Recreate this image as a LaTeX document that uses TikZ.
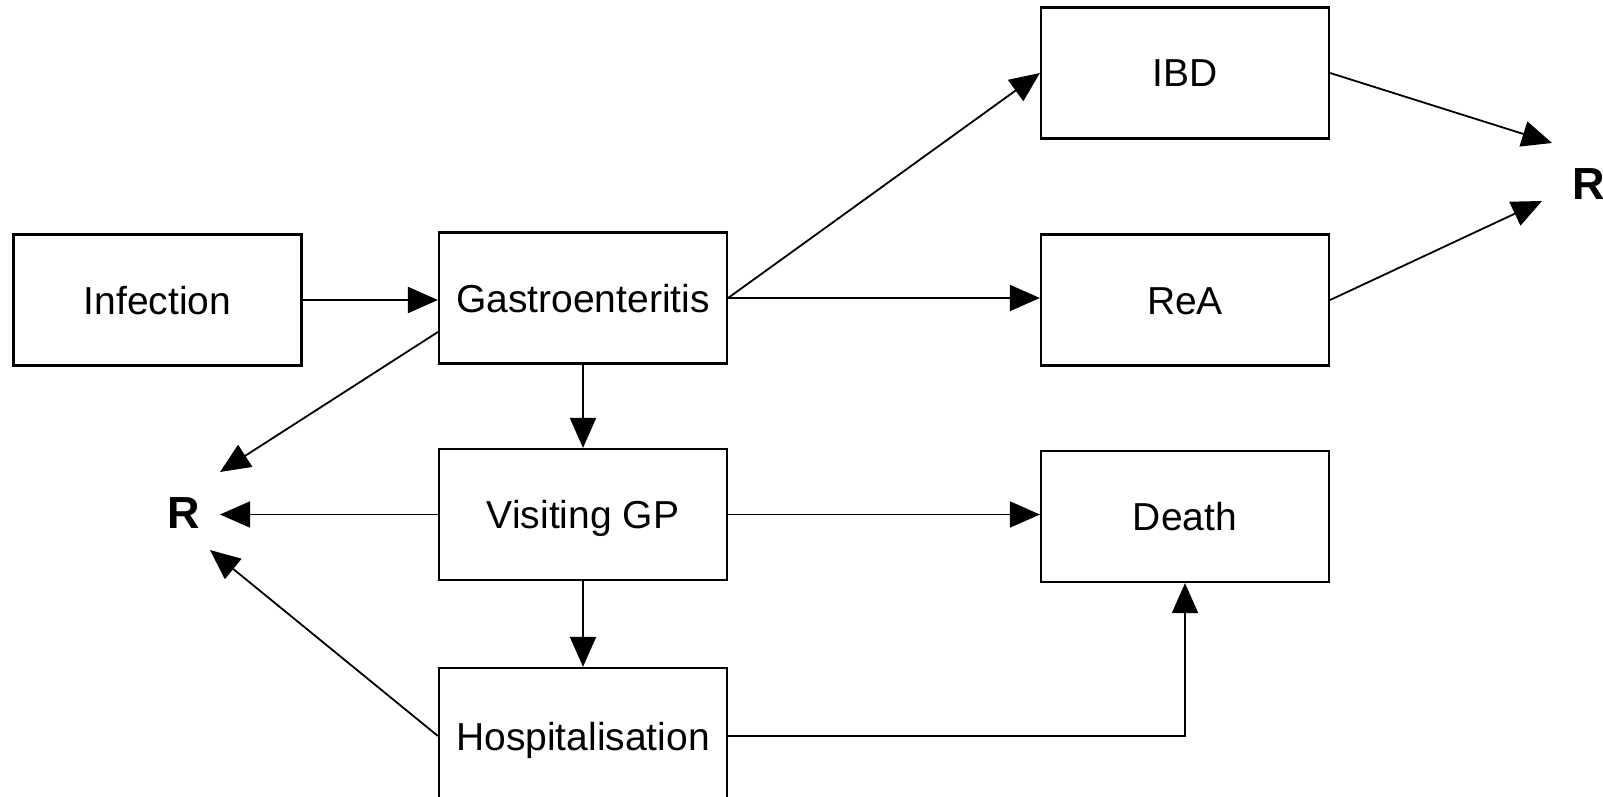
\documentclass[tikz,border=0pt]{standalone}
\usepackage{fontspec}
\setmainfont{Liberation Sans}
\usetikzlibrary{arrows.meta}
\begin{document}
\begin{tikzpicture}[x=1pt,y=-1pt,
  box/.style={draw, line width=2.2pt, minimum width=288pt, minimum height=131pt,
    inner sep=0pt, text height=28pt, text depth=0pt,
    font=\fontsize{39}{47}\selectfont},
  link/.style={line width=1.8pt, -{Triangle[length=30pt,width=26pt]}},
  endpt/.style={inner sep=0pt, font=\fontsize{45}{54}\selectfont\bfseries}
]
\useasboundingbox (0,0) rectangle (1603,797);

% states
\node[box] (inf)   at (157.5,300) {Infection};
\node[box] (gas)   at (583,298)   {Gastroenteritis};
\node[box] (gp)    at (583,514.5) {Visiting GP};
\node[box, minimum height=136pt] (hosp) at (583,736) {Hospitalisation};
\node[box] (ibd)   at (1185,73)   {IBD};
\node[box] (rea)   at (1185,300)  {ReA};
\node[box] (death) at (1185,516.5) {Death};

% recovery
\node[endpt] (rl) at (184,513) {R};
\node[endpt] (rr) at (1589,184) {R};

% arrow tips next to the recovery labels
\coordinate (rlA) at (220,472);
\coordinate (rlB) at (220,514.5);
\coordinate (rlC) at (210,550);
\coordinate (rrA) at (1552,143);
\coordinate (rrB) at (1542,201);

% transitions
\draw[link] (inf.east) -- (inf.east -| gas.west);
\draw[link] (gas.east) -- (ibd.west);
\draw[link] (gas.east) -- (gas.east -| rea.west);
\draw[link] (gas) -- (gp);
\draw[link] (gp) -- (hosp);
\draw[link] ([yshift=-34pt]gas.west) -- (rlA);
\draw[link] (gp.west) -- (rlB);
\draw[link] (hosp.west) -- (rlC);
\draw[link] (gp.east) -- (gp.east -| death.west);
\draw[link] (hosp.east) -| (death.south);
\draw[link] (ibd.east) -- (rrA);
\draw[link] (rea.east) -- (rrB);
\end{tikzpicture}
\end{document}
